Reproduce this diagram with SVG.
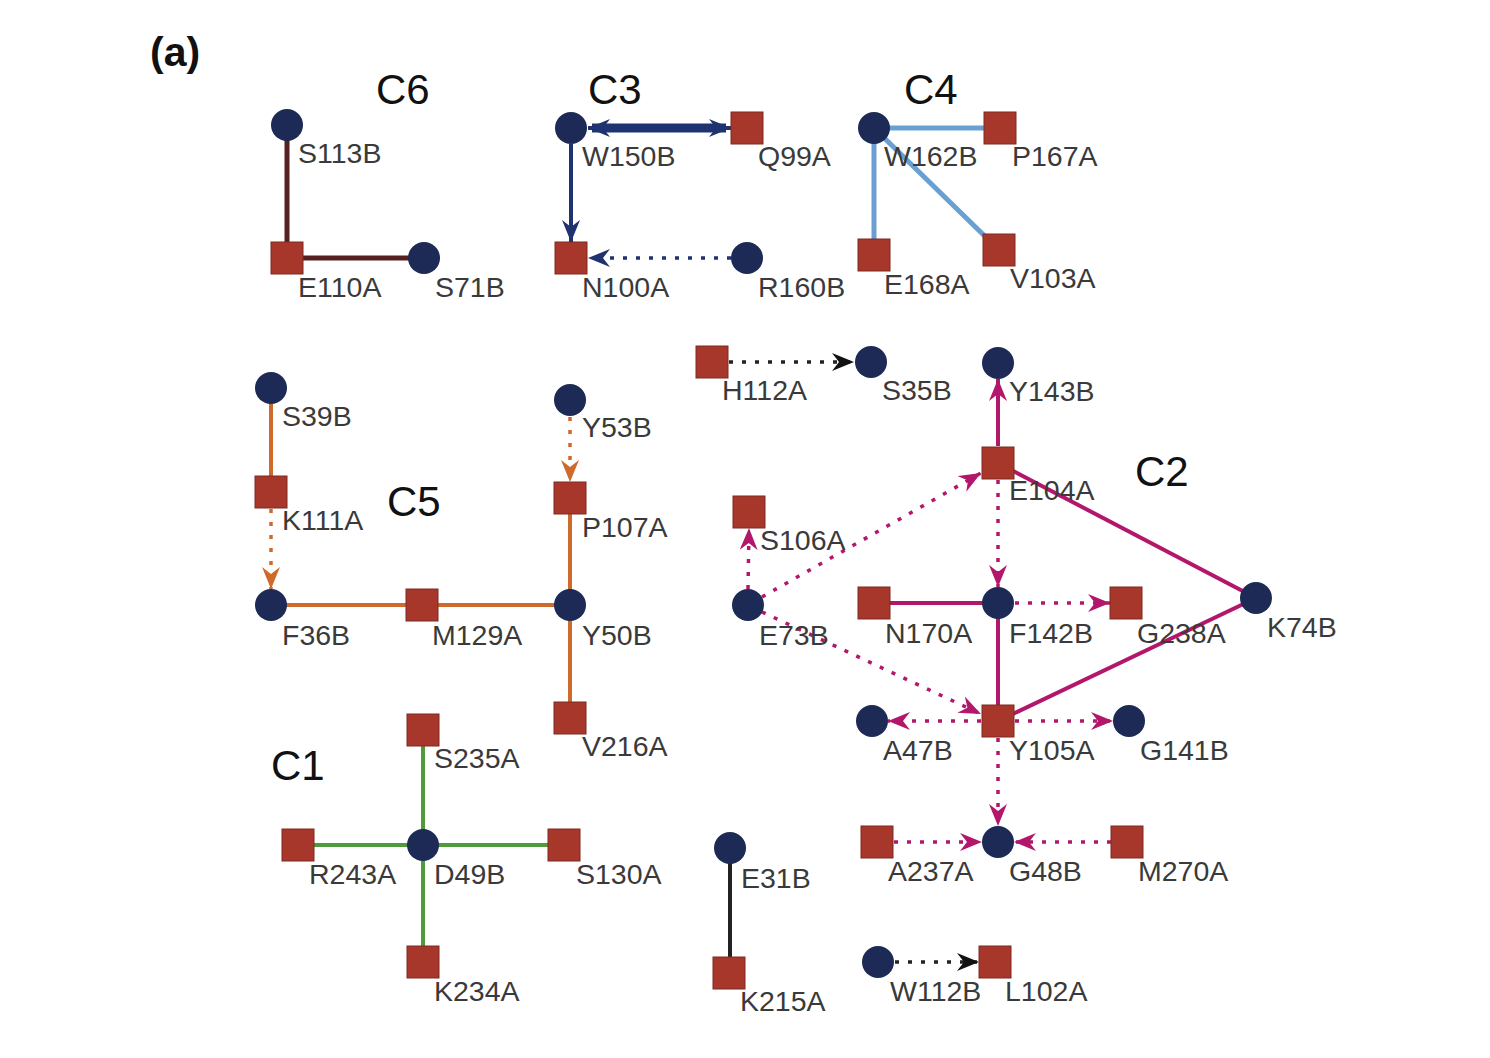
<svg xmlns="http://www.w3.org/2000/svg" width="1490" height="1058" viewBox="0 0 1490 1058">
<style>
.sq{fill:#a8372b;stroke:#7e2a22;stroke-width:1}
.ci{fill:#1c2a55}
.lb{font-family:"Liberation Sans",Arial,sans-serif;font-size:28.5px;fill:#3a3a3a}
.cl{font-family:"Liberation Sans",Arial,sans-serif;font-size:42px;fill:#111}
.e{fill:none;stroke-width:4}
.dot{stroke-dasharray:4 9;stroke-width:3.5}
.c6{stroke:#55201e;stroke-width:5}
.c3{stroke:#1e3370}
.c4{stroke:#6a9fd2;stroke-width:5}
.c5{stroke:#cd6a2c}
.c1{stroke:#4e9a3c}
.c2{stroke:#b3176c}
.bk{stroke:#222}
</style>
<defs>
<marker id="aN" viewBox="0 0 22 18" refX="22" refY="9" markerWidth="22" markerHeight="18" markerUnits="userSpaceOnUse" orient="auto-start-reverse"><path d="M0,0 L22,9 L0,18 L7,9 z" fill="#1e3370"/></marker>
<marker id="aO" viewBox="0 0 22 18" refX="22" refY="9" markerWidth="22" markerHeight="18" markerUnits="userSpaceOnUse" orient="auto"><path d="M0,0 L22,9 L0,18 L7,9 z" fill="#cd6a2c"/></marker>
<marker id="aM" viewBox="0 0 22 18" refX="22" refY="9" markerWidth="22" markerHeight="18" markerUnits="userSpaceOnUse" orient="auto"><path d="M0,0 L22,9 L0,18 L7,9 z" fill="#b3176c"/></marker>
<marker id="aB" viewBox="0 0 22 18" refX="22" refY="9" markerWidth="22" markerHeight="18" markerUnits="userSpaceOnUse" orient="auto"><path d="M0,0 L22,9 L0,18 L7,9 z" fill="#111"/></marker>
</defs>
<rect width="1490" height="1058" fill="#fff"/>
<text x="150" y="66" font-family="Liberation Sans,Arial,sans-serif" font-weight="bold" font-size="41" fill="#111">(a)</text>
<g id="cluster-labels">
<text class="cl" x="376" y="104">C6</text>
<text class="cl" x="588" y="104">C3</text>
<text class="cl" x="904" y="104">C4</text>
<text class="cl" x="387" y="516">C5</text>
<text class="cl" x="1135" y="486">C2</text>
<text class="cl" x="271" y="780">C1</text>
</g>
<g id="connectors">
<line class="e c6" x1="287" y1="125" x2="287" y2="258"/>
<line class="e c6" x1="287" y1="258" x2="424" y2="258"/>
<line class="e c3" x1="592" y1="125.5" x2="726" y2="125.5" stroke-width="2"/>
<line class="e c3" x1="592" y1="130.5" x2="726" y2="130.5" stroke-width="2"/>
<line class="e c3" x1="588" y1="128" x2="731" y2="128" stroke-width="1.5" marker-start="url(#aN)" marker-end="url(#aN)"/>
<line class="e c3" x1="571" y1="144" x2="571" y2="242" stroke-width="3" marker-end="url(#aN)"/>
<line class="e c3 dot" x1="731" y1="258" x2="588" y2="258" marker-end="url(#aN)"/>
<line class="e c4" x1="874" y1="128" x2="1000" y2="128"/>
<line class="e c4" x1="874" y1="128" x2="874" y2="255"/>
<line class="e c4" x1="874" y1="128" x2="999" y2="250"/>
<line class="e c5" x1="271" y1="388" x2="271" y2="492"/>
<line class="e c5 dot" x1="271" y1="509" x2="271" y2="589" marker-end="url(#aO)"/>
<line class="e c5" x1="271" y1="605" x2="570" y2="605"/>
<line class="e c5 dot" x1="570" y1="417" x2="570" y2="482" marker-end="url(#aO)"/>
<line class="e c5" x1="570" y1="498" x2="570" y2="718"/>
<line class="e c1" x1="423" y1="730" x2="423" y2="962"/>
<line class="e c1" x1="298" y1="845" x2="564" y2="845"/>
<line class="e bk" x1="730" y1="848" x2="730" y2="973"/>
<line class="e bk dot" x1="729" y1="362" x2="854" y2="362" marker-end="url(#aB)"/>
<line class="e bk dot" x1="895" y1="962" x2="979" y2="962" marker-end="url(#aB)"/>
<line class="e c2" x1="998" y1="446" x2="998" y2="379" marker-end="url(#aM)"/>
<line class="e c2" x1="998" y1="463" x2="1256" y2="598"/>
<line class="e c2" x1="998" y1="721" x2="1256" y2="598"/>
<line class="e c2" x1="874" y1="603" x2="998" y2="603"/>
<line class="e c2" x1="998" y1="603" x2="998" y2="721"/>
<line class="e c2 dot" x1="762" y1="597" x2="981" y2="473" marker-end="url(#aM)"/>
<line class="e c2 dot" x1="748" y1="589" x2="749" y2="528" marker-end="url(#aM)"/>
<line class="e c2 dot" x1="998" y1="480" x2="998" y2="587" marker-end="url(#aM)"/>
<line class="e c2 dot" x1="1015" y1="603" x2="1110" y2="603" marker-end="url(#aM)"/>
<line class="e c2 dot" x1="762" y1="612" x2="981" y2="714" marker-end="url(#aM)"/>
<line class="e c2 dot" x1="981" y1="721" x2="888" y2="721" marker-end="url(#aM)"/>
<line class="e c2 dot" x1="1015" y1="721" x2="1113" y2="721" marker-end="url(#aM)"/>
<line class="e c2 dot" x1="998" y1="738" x2="998" y2="826" marker-end="url(#aM)"/>
<line class="e c2 dot" x1="894" y1="842" x2="982" y2="842" marker-end="url(#aM)"/>
<line class="e c2 dot" x1="1111" y1="842" x2="1014" y2="842" marker-end="url(#aM)"/>
</g>
<g id="S113B"><circle class="ci" cx="287" cy="125" r="16"/><text class="lb" x="298" y="163">S113B</text></g>
<g id="E110A"><rect class="sq" x="271" y="242" width="32" height="32"/><text class="lb" x="298" y="297">E110A</text></g>
<g id="S71B"><circle class="ci" cx="424" cy="258" r="16"/><text class="lb" x="435" y="297">S71B</text></g>
<g id="W150B"><circle class="ci" cx="571" cy="128" r="16"/><text class="lb" x="582" y="166">W150B</text></g>
<g id="Q99A"><rect class="sq" x="731" y="112" width="32" height="32"/><text class="lb" x="758" y="166">Q99A</text></g>
<g id="N100A"><rect class="sq" x="555" y="242" width="32" height="32"/><text class="lb" x="582" y="297">N100A</text></g>
<g id="R160B"><circle class="ci" cx="747" cy="258" r="16"/><text class="lb" x="758" y="297">R160B</text></g>
<g id="W162B"><circle class="ci" cx="874" cy="128" r="16"/><text class="lb" x="884" y="166">W162B</text></g>
<g id="P167A"><rect class="sq" x="984" y="112" width="32" height="32"/><text class="lb" x="1012" y="166">P167A</text></g>
<g id="E168A"><rect class="sq" x="858" y="239" width="32" height="32"/><text class="lb" x="884" y="294">E168A</text></g>
<g id="V103A"><rect class="sq" x="983" y="234" width="32" height="32"/><text class="lb" x="1010" y="288">V103A</text></g>
<g id="S39B"><circle class="ci" cx="271" cy="388" r="16"/><text class="lb" x="282" y="426">S39B</text></g>
<g id="K111A"><rect class="sq" x="255" y="476" width="32" height="32"/><text class="lb" x="282" y="530">K111A</text></g>
<g id="F36B"><circle class="ci" cx="271" cy="605" r="16"/><text class="lb" x="282" y="645">F36B</text></g>
<g id="M129A"><rect class="sq" x="406" y="589" width="32" height="32"/><text class="lb" x="432" y="645">M129A</text></g>
<g id="Y50B"><circle class="ci" cx="570" cy="605" r="16"/><text class="lb" x="582" y="645">Y50B</text></g>
<g id="Y53B"><circle class="ci" cx="570" cy="400" r="16"/><text class="lb" x="582" y="437">Y53B</text></g>
<g id="P107A"><rect class="sq" x="554" y="482" width="32" height="32"/><text class="lb" x="582" y="537">P107A</text></g>
<g id="V216A"><rect class="sq" x="554" y="702" width="32" height="32"/><text class="lb" x="582" y="756">V216A</text></g>
<g id="S235A"><rect class="sq" x="407" y="714" width="32" height="32"/><text class="lb" x="434" y="768">S235A</text></g>
<g id="R243A"><rect class="sq" x="282" y="829" width="32" height="32"/><text class="lb" x="309" y="884">R243A</text></g>
<g id="D49B"><circle class="ci" cx="423" cy="845" r="16"/><text class="lb" x="434" y="884">D49B</text></g>
<g id="S130A"><rect class="sq" x="548" y="829" width="32" height="32"/><text class="lb" x="576" y="884">S130A</text></g>
<g id="K234A"><rect class="sq" x="407" y="946" width="32" height="32"/><text class="lb" x="434" y="1001">K234A</text></g>
<g id="E31B"><circle class="ci" cx="730" cy="848" r="16"/><text class="lb" x="741" y="888">E31B</text></g>
<g id="K215A"><rect class="sq" x="713" y="957" width="32" height="32"/><text class="lb" x="740" y="1011">K215A</text></g>
<g id="H112A"><rect class="sq" x="696" y="346" width="32" height="32"/><text class="lb" x="722" y="400">H112A</text></g>
<g id="S35B"><circle class="ci" cx="871" cy="362" r="16"/><text class="lb" x="882" y="400">S35B</text></g>
<g id="W112B"><circle class="ci" cx="878" cy="962" r="16"/><text class="lb" x="890" y="1001">W112B</text></g>
<g id="L102A"><rect class="sq" x="979" y="946" width="32" height="32"/><text class="lb" x="1005" y="1001">L102A</text></g>
<g id="Y143B"><circle class="ci" cx="998" cy="363" r="16"/><text class="lb" x="1009" y="401">Y143B</text></g>
<g id="E104A"><rect class="sq" x="982" y="447" width="32" height="32"/><text class="lb" x="1009" y="500">E104A</text></g>
<g id="S106A"><rect class="sq" x="733" y="496" width="32" height="32"/><text class="lb" x="760" y="550">S106A</text></g>
<g id="E73B"><circle class="ci" cx="748" cy="605" r="16"/><text class="lb" x="759" y="645">E73B</text></g>
<g id="N170A"><rect class="sq" x="858" y="587" width="32" height="32"/><text class="lb" x="885" y="643">N170A</text></g>
<g id="F142B"><circle class="ci" cx="998" cy="603" r="16"/><text class="lb" x="1009" y="643">F142B</text></g>
<g id="G238A"><rect class="sq" x="1110" y="587" width="32" height="32"/><text class="lb" x="1137" y="643">G238A</text></g>
<g id="K74B"><circle class="ci" cx="1256" cy="598" r="16"/><text class="lb" x="1267" y="637">K74B</text></g>
<g id="A47B"><circle class="ci" cx="872" cy="721" r="16"/><text class="lb" x="883" y="760">A47B</text></g>
<g id="Y105A"><rect class="sq" x="982" y="705" width="32" height="32"/><text class="lb" x="1009" y="760">Y105A</text></g>
<g id="G141B"><circle class="ci" cx="1129" cy="721" r="16"/><text class="lb" x="1140" y="760">G141B</text></g>
<g id="A237A"><rect class="sq" x="861" y="826" width="32" height="32"/><text class="lb" x="888" y="881">A237A</text></g>
<g id="G48B"><circle class="ci" cx="998" cy="842" r="16"/><text class="lb" x="1009" y="881">G48B</text></g>
<g id="M270A"><rect class="sq" x="1111" y="826" width="32" height="32"/><text class="lb" x="1138" y="881">M270A</text></g>
</svg>
